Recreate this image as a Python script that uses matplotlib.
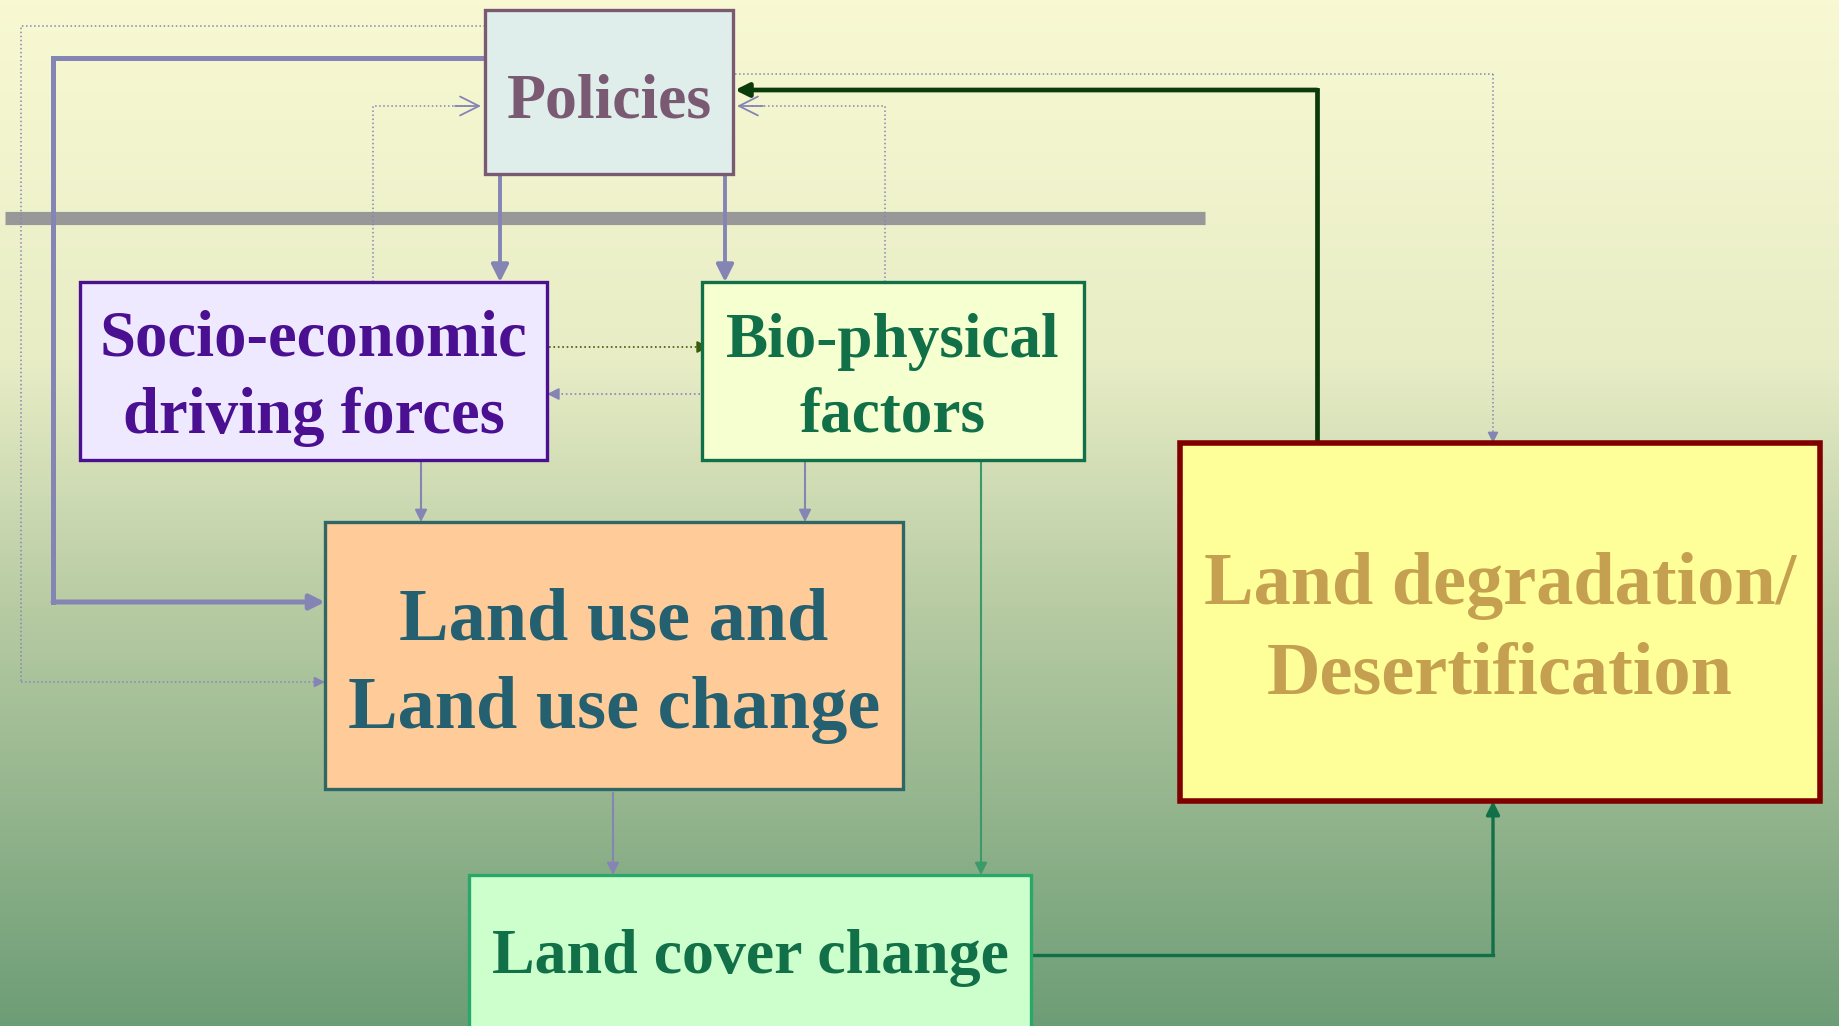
import matplotlib
matplotlib.use('Agg')

import matplotlib.pyplot as plt
import numpy as np
from matplotlib.patches import Rectangle
from matplotlib.colors import LinearSegmentedColormap

# box labels (one entry per text line)
labels = {
    'policies': ['Policies'],
    'socio': ['Socio-economic', 'driving forces'],
    'bio': ['Bio-physical', 'factors'],
    'landuse': ['Land use and', 'Land use change'],
    'degrad': ['Land degradation/', 'Desertification'],
    'cover': ['Land cover change'],
}

# layout in pixels: x0, y0, x1, y1 (y downward)
boxes = {
    'policies': (485, 10, 733, 174),
    'socio': (80, 282, 547, 460),
    'bio': (702, 282, 1084, 460),
    'landuse': (325, 522, 903, 789),
    'degrad': (1180, 443, 1820, 801),
    'cover': (469, 875, 1031, 1040),
}
baselines = {
    'policies': [117],
    'socio': [356, 433],
    'bio': [357, 432],
    'landuse': [639, 728],
    'degrad': [604, 694],
    'cover': [973],
}
fontsizes = {'policies': 46, 'socio': 46.5, 'bio': 45.5, 'landuse': 53.5,
             'degrad': 53.5, 'cover': 46}
face = {'policies': '#dfeeea', 'socio': '#eee9ff', 'bio': '#f5ffd0',
        'landuse': '#ffcc99', 'degrad': '#ffff99', 'cover': '#ccffcc'}
edge = {'policies': '#7a5a72', 'socio': '#4b0f91', 'bio': '#127048',
        'landuse': '#2f6666', 'degrad': '#800000', 'cover': '#2aa86a'}
textcol = {'policies': '#7a5a72', 'socio': '#4b0f91', 'bio': '#127048',
           'landuse': '#256070', 'degrad': '#c4a050', 'cover': '#127048'}

W, H = 1839, 1026
PURPLE = '#8585b5'

fig = plt.figure(figsize=(W / 100, H / 100), dpi=100)
ax = fig.add_axes([0, 0, 1, 1])
ax.set_xlim(0, W)
ax.set_ylim(H, 0)
ax.axis('off')

# background gradient
cmap = LinearSegmentedColormap.from_list(
    'bg', [(0, '#f8f9d3'), (0.35, '#e8edc6'), (0.6, '#b6caa2'), (1, '#6d9d76')])
grad = np.linspace(0, 1, 256).reshape(-1, 1)
ax.imshow(grad, cmap=cmap, extent=[0, W, H, 0], aspect='auto', zorder=0)

# gray separator bar
ax.plot([5, 1205], [218, 218], color='#989898', lw=9.5, solid_capstyle='butt', zorder=1)


def arrow(x0, y0, x1, y1, color, lw, ls='-', head='-|>', ms=18, z=3):
    if ls != '-':
        # dotted shaft, solid head
        ax.plot([x0, x1], [y0, y1], color=color, lw=lw, ls=ls, zorder=z)
        d = np.hypot(x1 - x0, y1 - y0)
        x0, y0 = x1 - (x1 - x0) / d * 4, y1 - (y1 - y0) / d * 4
    ax.annotate('', xy=(x1, y1), xytext=(x0, y0),
                arrowprops=dict(arrowstyle=head, color=color, lw=lw,
                                mutation_scale=ms, shrinkA=0, shrinkB=0),
                zorder=z)


def path(xs, ys, color, lw, ls='-', ms=18, head='-|>', z=3):
    ax.plot(xs[:-1], ys[:-1], color=color, lw=lw, ls=ls, zorder=z,
            solid_joinstyle='miter')
    arrow(xs[-2], ys[-2], xs[-1], ys[-1], color, lw, ls, head, ms, z)


# outer dotted loop: policies -> land use
path([485, 21, 21, 325], [26, 26, 682, 682], PURPLE, 1.1, ':', 16)
# thick loop: policies -> land use
path([485, 53, 53, 325], [58, 58, 602, 602], PURPLE, 3.6, '-', 22)
# policies -> socio, policies -> bio
arrow(500, 172, 500, 282, PURPLE, 2.8, ms=26)
arrow(725, 172, 725, 282, PURPLE, 2.8, ms=26)
# dotted feedback socio -> policies, bio -> policies (open heads)
ax.plot([373, 373, 470], [282, 106, 106], color=PURPLE, lw=1.1, ls=':', zorder=3)
arrow(455, 106, 481, 106, PURPLE, 1.3, '-', '->', 34)
ax.plot([885, 885, 750], [282, 106, 106], color=PURPLE, lw=1.1, ls=':', zorder=3)
arrow(763, 106, 737, 106, PURPLE, 1.3, '-', '->', 34)
# dotted policies -> degradation
path([735, 1493, 1493], [74, 74, 443], PURPLE, 1.1, ':', 16)
# degradation -> policies (thick dark green)
path([1317, 1317, 735], [443, 90, 90], '#0b3a0b', 3.4, '-', 20)
# socio <-> bio dotted
arrow(549, 347, 709, 347, '#3d5a0a', 1.2, ':', ms=18)
arrow(700, 394, 547, 394, PURPLE, 1.2, ':', ms=18)
# into land use
arrow(421, 460, 421, 522, PURPLE, 1.5, ms=18)
arrow(805, 460, 805, 522, PURPLE, 1.5, ms=18)
# into land cover
arrow(613, 793, 613, 875, PURPLE, 1.5, ms=18)
arrow(981, 460, 981, 875, '#3a9a6a', 1.5, ms=18)
# land cover -> degradation
path([1031, 1493, 1493], [955, 955, 801], '#127048', 2.4, '-', 20)

# boxes and texts
for key, (x0, y0, x1, y1) in boxes.items():
    lw = 4 if key == 'degrad' else 2.4
    ax.add_patch(Rectangle((x0, y0), x1 - x0, y1 - y0, facecolor=face[key],
                           edgecolor=edge[key], lw=lw, zorder=4))
    cx = (x0 + x1) / 2
    for line, yb in zip(labels[key], baselines[key]):
        ax.text(cx, yb, line, ha='center', va='baseline',
                fontsize=fontsizes[key], fontweight='bold',
                family=['Liberation Serif', 'DejaVu Serif'],
                color=textcol[key], zorder=5)

plt.savefig('out.png', dpi=100)
plt.close(fig)
